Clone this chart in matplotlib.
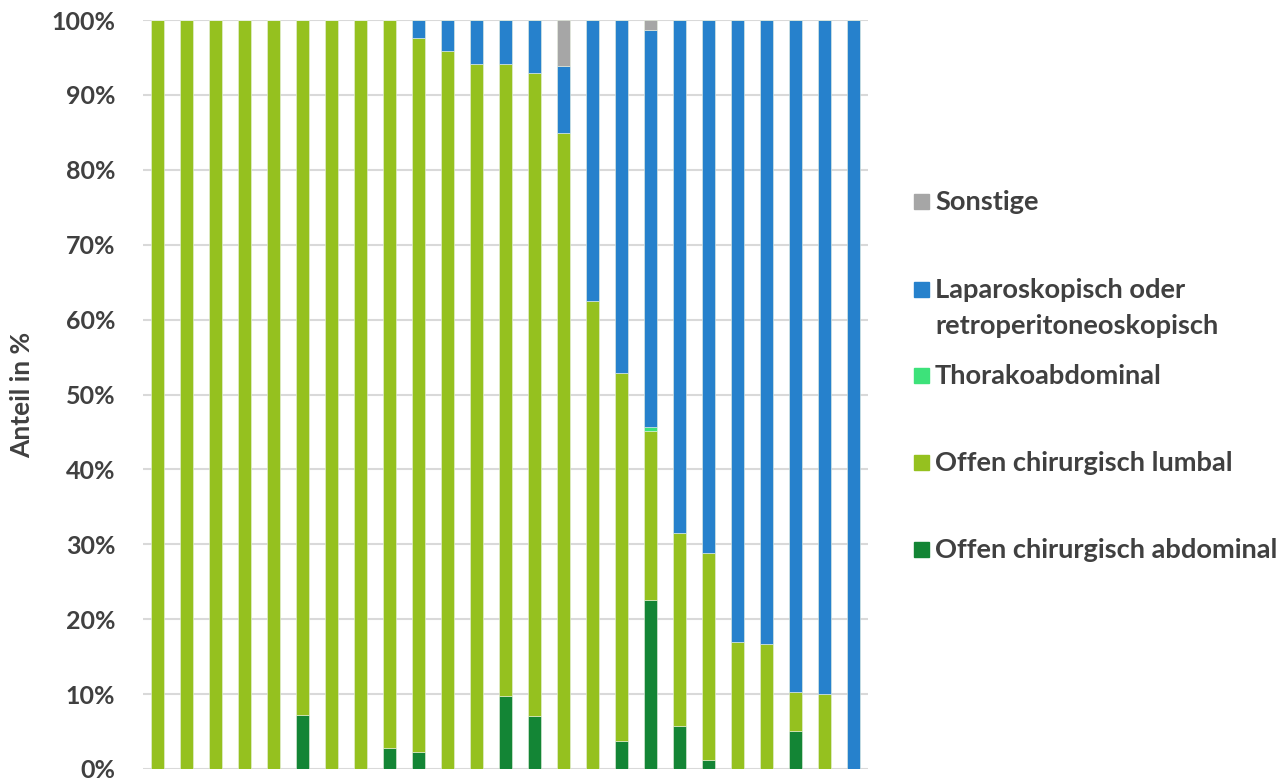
import matplotlib
matplotlib.use("Agg")
import matplotlib.pyplot as plt
import numpy as np
from matplotlib.patches import Rectangle

# Data (percent, per bar, stacked bottom -> top)
bars = list(range(1, 26))
abdominal = [0, 0, 0, 0, 0, 7.2, 0, 0, 2.8, 2.3, 0, 0, 9.8, 7.1, 0, 0, 3.7, 22.5, 5.7, 1.2, 0, 0, 5.1, 0, 0]
lumbal_top = [100, 100, 100, 100, 100, 100, 100, 100, 100, 97.6, 95.8, 94.1, 94.1, 92.9, 84.9, 62.5, 52.9, 45.1, 31.5, 28.8, 16.9, 16.7, 10.3, 10.0, 0]
thorako = [0, 0, 0, 0, 0, 0, 0, 0, 0, 0, 0, 0, 0, 0, 0, 0, 0, 0.6, 0, 0, 0, 0, 0, 0, 0]
sonstige = [0, 0, 0, 0, 0, 0, 0, 0, 0, 0, 0, 0, 0, 0, 6.1, 0, 0, 1.3, 0, 0, 0, 0, 0, 0, 0]

series_names = ["Offen chirurgisch abdominal", "Offen chirurgisch lumbal", "Thorakoabdominal",
                "Laparoskopisch oder\nretroperitoneoskopisch", "Sonstige"]
colors = ["#138535", "#95c11f", "#3de27a", "#2681cc", "#a6a6a6"]
yticks = [0, 10, 20, 30, 40, 50, 60, 70, 80, 90, 100]
ytick_labels = [f"{v}%" for v in yticks]

abd = np.array(abdominal)
lum = np.array(lumbal_top) - abd
tho = np.array(thorako)
son = np.array(sonstige)
lap = 100 - abd - lum - tho - son
lap[lap < 1e-9] = 0
stack = [abd, lum, tho, lap, son]

W, H = 1281, 780
fig = plt.figure(figsize=(W / 100, H / 100), dpi=100)
ax = fig.add_axes([143 / W, 11 / H, 725 / W, 749 / H])

x = np.arange(len(bars))
bottom = np.zeros(len(bars))
for vals, c in zip(stack, colors):
    ax.bar(x, vals, bottom=bottom, width=0.45, color=c, edgecolor="#e8f0e0", linewidth=0.4, zorder=3)
    bottom += vals

TXT = "#404040"
ax.set_xlim(-0.5, len(bars) - 0.5)
ax.set_ylim(0, 100)
ax.set_yticks(yticks)
ax.set_yticklabels(ytick_labels, fontsize=18, fontweight="bold", color=TXT, family="Lato")
ax.set_xticks([])
ax.tick_params(axis="y", length=0, pad=20)
ax.grid(axis="y", color="#d9d9d9", linewidth=1.5, zorder=0)
for s in ax.spines.values():
    s.set_visible(False)
ax.set_ylabel("Anteil in %", fontsize=19, fontweight="bold", color=TXT, family="Lato", labelpad=12)

# Legend (drawn manually, top to bottom): (series index, baseline y of first line in px)
leg_items = [(4, 210), (3, 298), (2, 384), (1, 471), (0, 558)]
for idx, base in leg_items:
    fig.add_artist(Rectangle((914 / W, 1 - (base - 1) / H), 15 / W, 15 / H,
                             transform=fig.transFigure, color=colors[idx]))
    for k, line in enumerate(series_names[idx].split("\n")):
        fig.text(935 / W, 1 - (base + 36 * k) / H, line, fontsize=19.6, fontweight="bold",
                 color=TXT, family="Lato", va="baseline", ha="left")

fig.savefig("out.png", dpi=100)
